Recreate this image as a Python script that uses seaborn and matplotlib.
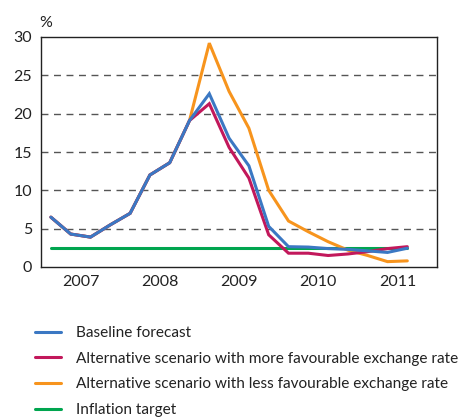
import matplotlib
matplotlib.use("Agg")
import matplotlib.pyplot as plt
import seaborn as sns
import pandas as pd
import numpy as np

# Quarterly inflation path, 2007Q1 - 2011Q3 (per cent)
quarters = [f"{y}Q{q}" for y in range(2007, 2012) for q in range(1, 5)][:19]
baseline = [6.5, 4.3, 3.9, 5.5, 7.0, 12.0, 13.6, 19.1, 22.6, 16.8, 13.2, 5.3,
            2.65, 2.6, 2.4, 2.3, 2.1, 1.9, 2.45]
more_favourable = [6.5, 4.3, 3.9, 5.5, 7.0, 12.0, 13.6, 19.1, 21.3, 15.6, 11.6, 4.2,
                   1.8, 1.8, 1.5, 1.7, 2.0, 2.4, 2.65]
less_favourable = [6.5, 4.3, 3.9, 5.5, 7.0, 12.0, 13.6, 19.1, 29.2, 22.9, 18.1, 10.0,
                   6.0, 4.6, 3.3, 2.2, 1.5, 0.7, 0.8]
target = [2.5] * 19

series_names = [
    "Baseline forecast",
    "Alternative scenario with more favourable exchange rate",
    "Alternative scenario with less favourable exchange rate",
    "Inflation target",
]
colors = ["#3b78c3", "#c2185b", "#f7941d", "#00a54f"]
year_labels = ["2007", "2008", "2009", "2010", "2011"]
y_ticks = [0, 5, 10, 15, 20, 25, 30]


def quarter_pos(label):
    year, q = label.split("Q")
    return int(year) + (int(q) - 0.5) / 4


frames = []
for name, vals in zip(series_names, [baseline, more_favourable, less_favourable, target]):
    frames.append(pd.DataFrame({
        "t": [quarter_pos(q) for q in quarters],
        "value": vals,
        "series": name,
    }))
df = pd.concat(frames, ignore_index=True)

sns.set_style("white")
plt.rcParams["font.family"] = ["Lato", "DejaVu Sans"]

fig = plt.figure(figsize=(4.67, 4.17), dpi=100)
ax = fig.add_axes([41 / 467, 1 - 267 / 417, 396 / 467, 230 / 417])

# draw target first so forecasts sit on top
draw_order = [series_names[3], series_names[2], series_names[1], series_names[0]]
for name in draw_order:
    sub = df[df["series"] == name]
    sns.lineplot(data=sub, x="t", y="value", color=colors[series_names.index(name)],
                 linewidth=2.2, ax=ax, label=name, legend=False,
                 solid_joinstyle="miter")

ax.set_xlim(2007, 2012)
ax.set_ylim(0, 30)
ax.set_xlabel("")
ax.set_ylabel("")

ax.set_yticks(y_ticks)
ax.set_yticklabels([str(v) for v in y_ticks], fontsize=11.5, color="#222222")
ax.tick_params(axis="y", length=0, pad=6.5)

ax.set_xticks(range(2007, 2013))
ax.set_xticklabels([])
ax.set_xticks([y + 0.5 for y in range(2007, 2012)], minor=True)
ax.set_xticklabels(year_labels, minor=True, fontsize=11.5, color="#222222")
ax.tick_params(axis="x", which="major", length=6, width=1.0, color="#222222", direction="out")
ax.tick_params(axis="x", which="minor", length=0, pad=6)

for v in y_ticks[1:-1]:
    ax.axhline(v, color="#555555", linestyle=(0, (5, 4)), linewidth=1.0, zorder=0)

for s in ax.spines.values():
    s.set_color("#222222")
    s.set_linewidth(1.0)

fig.text(39 / 467, 1 - 23 / 417, "%", fontsize=11.5, color="#222222", va="center", ha="left")

handles = [plt.Line2D([], [], color=c, linewidth=2.2) for c in colors]
fig.legend(handles, series_names, loc="upper left", bbox_to_anchor=(35 / 467, 1 - 326 / 417),
           frameon=False, fontsize=11.1, handlelength=1.7, handletextpad=0.95,
           labelspacing=0.76, labelcolor="#222222", borderaxespad=0, borderpad=0)

fig.savefig("out.png", dpi=100)
